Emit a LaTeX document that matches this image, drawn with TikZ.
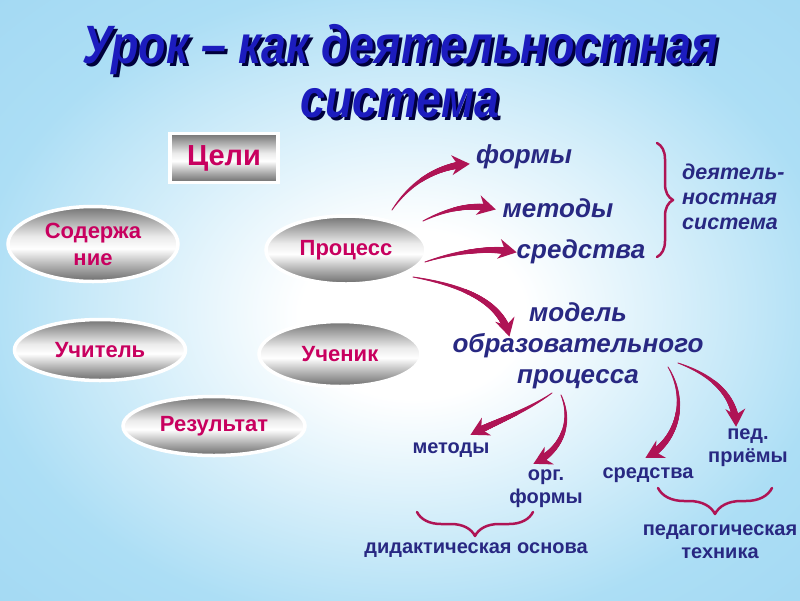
\documentclass[tikz,border=0pt]{standalone}
\usepackage{fontspec}
\setmainfont{Liberation Sans}
\usetikzlibrary{decorations.markings,decorations.pathreplacing,shapes.geometric}

\definecolor{bgblue}{RGB}{172,222,245}
\definecolor{bgblue2}{RGB}{160,215,242}
\definecolor{txtblue}{RGB}{40,40,130}
\definecolor{magtext}{RGB}{200,0,95}
\definecolor{arrcol}{RGB}{175,20,85}
\definecolor{ttlblue}{RGB}{28,28,190}
\definecolor{ttlshadow}{RGB}{0,0,60}

\pgfdeclareradialshading{bgshade}{\pgfpoint{1bp}{-1.5bp}}{color(0bp)=(white); color(7bp)=(white); color(27bp)=(bgblue); color(40bp)=(bgblue2)}
\pgfdeclareverticalshading{silver}{100bp}{color(0bp)=(black!58); color(25bp)=(black!58); color(36bp)=(black!30); color(47bp)=(white); color(55bp)=(black!8); color(75bp)=(black!55); color(100bp)=(black!55)}

\tikzset{
  oval/.style={ellipse, draw=white, line width=3.5pt, shade, shading=silver, inner sep=0pt,
    font=\bfseries\fontsize{22}{27}\selectfont, text=magtext, align=center},
  goalbox/.style={rectangle, draw=white, line width=3.5pt, shade, shading=silver, inner sep=0pt,
    font=\bfseries\fontsize{29}{32}\selectfont, text=magtext},
  ttlfont/.style={font=\bfseries\itshape\fontsize{54}{60}\selectfont, xscale=0.83, inner sep=0pt},
  bigital/.style={font=\bfseries\itshape\fontsize{26}{31}\selectfont, text=txtblue, align=center, inner sep=0pt},
  sideital/.style={font=\bfseries\itshape\fontsize{21.5}{25}\selectfont, text=txtblue, align=left, inner sep=0pt},
  lowtext/.style={font=\bfseries\fontsize{20}{23}\selectfont, text=txtblue, align=center, inner sep=0pt},
  bracestyle/.style={draw=arrcol, line width=2.5pt, line cap=round, line join=round, decorate},
  taper/.style={decorate, decoration={markings,
    mark=between positions 0 and -9pt step 0.5pt with {%
      \pgfmathsetmacro\tprad{0.5+3.3*(\pgfkeysvalueof{/pgf/decoration/mark info/distance from start})/(\pgfdecoratedpathlength)}%
      \fill[arrcol] (0pt,0pt) circle (\tprad pt);},
    mark=at position 0.999 with {\fill[arrcol] (2pt,0pt) -- (-16pt,10pt) -- (-10pt,0pt) -- (-16pt,-10pt) -- cycle;}}}
}

\begin{document}
\begin{tikzpicture}[x=1pt,y=-1pt]
\useasboundingbox (0,0) rectangle (800,600);
\shade[shading=bgshade] (0,0) rectangle (800,600);

% title (shadow drawn first, then the text)
\node[ttlfont, text=ttlshadow] (t1s) at (403,53) {Урок – как деятельностная};
\node[ttlfont, text=ttlblue] (t1) at (400,50) {Урок – как деятельностная};
\node[ttlfont, text=ttlshadow] (t2s) at (403,106) {система};
\node[ttlfont, text=ttlblue] (t2) at (400,103) {система};

% boxes
\node[goalbox, minimum width=108pt, minimum height=49pt] (goal) at (224,158) {Цели};
\node[oval, minimum width=170pt, minimum height=75pt] (cont) at (93,244) {Содержа\\ние};
\node[oval, minimum width=160pt, minimum height=68pt] (proc) at (346,250) {Процесс};
\node[oval, minimum width=171pt, minimum height=61pt] (teach) at (100,350) {Учитель};
\node[oval, minimum width=162pt, minimum height=65pt] (pupil) at (340,354) {Ученик};
\node[oval, minimum width=182pt, minimum height=59pt] (res) at (214,426) {Результат};

% right texts
\node[bigital] (forms) at (524,157) {формы};
\node[bigital] (meth) at (558,208) {методы};
\node[bigital] (means) at (581,252) {средства};
\node[sideital, anchor=west] (dsys) at (682,197) {деятель-\\ностная\\система};
\node[bigital] (model) at (578,346) {модель\\образовательного\\процесса};

% lower texts
\node[lowtext] (m2) at (451,450) {методы};
\node[lowtext] (org) at (546,489) {орг.\\формы};
\node[lowtext] (sr2) at (648,475) {средства};
\node[lowtext] (ped) at (748,448) {пед.\\приёмы};
\node[lowtext] (did) at (476,550) {дидактическая основа};
\node[lowtext] (tech) at (720,542) {педагогическая\\техника};

% arrow endpoints
\coordinate (a1s) at (392,210); \coordinate (a1e) at (468,164);
\coordinate (a2s) at (423,221); \coordinate (a2e) at (494,209);
\coordinate (a3s) at (425,262); \coordinate (a3e) at (515,252);
\coordinate (a4s) at (413,277); \coordinate (a4e) at (509,335);
\coordinate (a5s) at (552,393); \coordinate (a5e) at (472,434);
\coordinate (a6s) at (561,395); \coordinate (a6e) at (535,463);
\coordinate (a7s) at (668,367); \coordinate (a7e) at (647,457);
\coordinate (a8s) at (678,363); \coordinate (a8e) at (736,425);

\path[taper] (a1s) .. controls (412,180) and (440,166) .. (a1e);
\path[taper] (a2s) .. controls (445,210) and (470,203) .. (a2e);
\path[taper] (a3s) .. controls (455,252) and (490,247) .. (a3e);
\path[taper] (a4s) .. controls (460,285) and (500,300) .. (a4e);
\path[taper] (a5s) .. controls (525,412) and (495,422) .. (a5e);
\path[taper] (a6s) .. controls (572,420) and (564,448) .. (a6e);
\path[taper] (a7s) .. controls (688,400) and (678,440) .. (a7e);
\path[taper] (a8s) .. controls (712,375) and (735,395) .. (a8e);

% braces
\draw[bracestyle, decoration={brace, amplitude=16pt}] (657,143) -- (657,257);
\draw[bracestyle, decoration={brace, amplitude=24pt}] (533,512) -- (417,512);
\draw[bracestyle, decoration={brace, amplitude=26pt}] (772,488) -- (658,488);
\end{tikzpicture}
\end{document}
